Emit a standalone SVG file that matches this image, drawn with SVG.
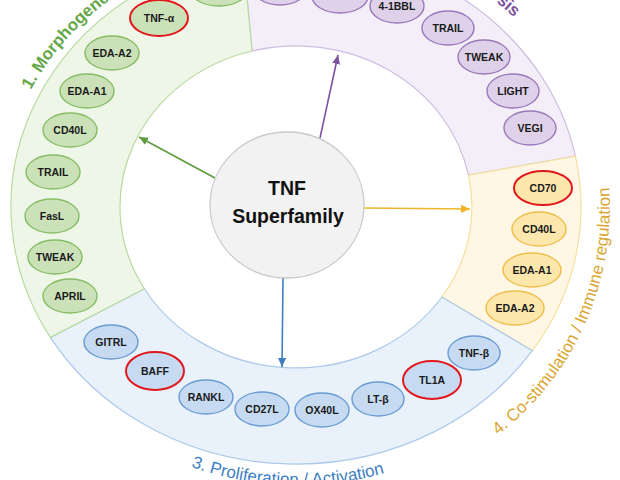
<svg xmlns="http://www.w3.org/2000/svg" width="620" height="480" viewBox="0 0 620 480">
<defs>
<style>
.sg{fill:#eef6e8;stroke:#b8dba2;stroke-width:1.2}
.sp{fill:#f3eef8;stroke:#cfbde1;stroke-width:1.2}
.sy{fill:#fff7e4;stroke:#f6df9f;stroke-width:1.2}
.sb{fill:#e9f2fb;stroke:#acc9ea;stroke-width:1.2}
.ng{fill:#cbe2b9;stroke:#86bd66;stroke-width:1.4}
.np{fill:#ded1e9;stroke:#9b79b9;stroke-width:1.4}
.ny{fill:#fde7ad;stroke:#eebd4a;stroke-width:1.4}
.nb{fill:#c6daf1;stroke:#6b9cd2;stroke-width:1.4}
.red{stroke:#e3161c;stroke-width:2}
.lbl{font-family:'Liberation Sans',Arial,sans-serif;font-weight:bold;font-size:10.5px;text-anchor:middle;fill:#1a1a1a}
.ctr{font-family:'Liberation Sans',Arial,sans-serif;font-weight:bold;font-size:19.5px;text-anchor:middle;fill:#111}
.arc{font-family:'Liberation Sans',Arial,sans-serif;font-size:17px}
.conn{fill:none;stroke-width:1.6}
</style>
<marker id="mg" viewBox="0 0 10 10" refX="10" refY="5" markerWidth="9" markerHeight="9" markerUnits="userSpaceOnUse" orient="auto"><path d="M0,0.5 L10,5 L0,9.5 z" fill="#5e9c3e"/></marker>
<marker id="mp" viewBox="0 0 10 10" refX="10" refY="5" markerWidth="9" markerHeight="9" markerUnits="userSpaceOnUse" orient="auto"><path d="M0,0.5 L10,5 L0,9.5 z" fill="#7d52a0"/></marker>
<marker id="my" viewBox="0 0 10 10" refX="10" refY="5" markerWidth="9" markerHeight="9" markerUnits="userSpaceOnUse" orient="auto"><path d="M0,0.5 L10,5 L0,9.5 z" fill="#f0b429"/></marker>
<marker id="mb" viewBox="0 0 10 10" refX="10" refY="5" markerWidth="9" markerHeight="9" markerUnits="userSpaceOnUse" orient="auto"><path d="M0,0.5 L10,5 L0,9.5 z" fill="#3f7fc1"/></marker>
<path id="tpG" d="M 30.9 89.9 A 295 267 0 0 1 397 -44"/>
<path id="tpP" d="M 34.5 70 A 302 274 0 0 1 513.9 17.4"/>
<path id="tpY" d="M 498 435.2 A 288 288 0 0 0 605.6 158"/>
<path id="tpB" d="M 191 466.7 A 300 278 0 0 0 527.8 385.7"/>
</defs>
<rect width="620" height="480" fill="#ffffff"/>
<g id="sectors">
<path class="sp" d="M 243 -45.6 A 285 257 0 0 1 575.4 156.2 L 468.5 175.2 A 176 161 0 0 0 252 51 Z"/>
<path class="sy" d="M 575.4 156.2 A 285 257 0 0 1 532.3 350.7 L 441.9 297 A 176 161 0 0 0 468.5 175.2 Z"/>
<path class="sb" d="M 532.3 350.7 A 285 257 0 0 1 50.4 337.4 L 144.4 288.7 A 176 161 0 0 0 441.9 297 Z"/>
<path class="sg" d="M 50.4 337.4 A 285 257 0 0 1 243 -45.6 L 252 51 A 176 161 0 0 0 144.4 288.7 Z"/>
</g>
<g id="connectors">
<line class="conn" x1="215" y1="178" x2="139" y2="137" stroke="#5e9c3e" marker-end="url(#mg)"/>
<line class="conn" x1="320" y1="138" x2="338" y2="55" stroke="#7d52a0" marker-end="url(#mp)"/>
<line class="conn" x1="364" y1="208" x2="470" y2="209" stroke="#f0b429" marker-end="url(#my)"/>
<line class="conn" x1="283" y1="278" x2="282" y2="367" stroke="#3f7fc1" marker-end="url(#mb)"/>
</g>
<g id="center">
<ellipse cx="287" cy="205" rx="77" ry="73" fill="#f2f2f2" stroke="#c9c9c9" stroke-width="1.3"/>
<text class="ctr" x="287" y="195">TNF</text>
<text class="ctr" x="288" y="223">Superfamily</text>
</g>
<g id="green-nodes">
<g id="g-top"><ellipse class="ng" cx="219" cy="-11" rx="29" ry="17"/></g>
<g id="g-tnfa"><ellipse class="ng red" cx="159" cy="18" rx="29" ry="18"/><text class="lbl" x="159" y="22">TNF-α</text></g>
<g id="g-edaa2"><ellipse class="ng" cx="112" cy="53" rx="27" ry="17"/><text class="lbl" x="112" y="57">EDA-A2</text></g>
<g id="g-edaa1"><ellipse class="ng" cx="87" cy="91" rx="27" ry="17"/><text class="lbl" x="87" y="95">EDA-A1</text></g>
<g id="g-cd40l"><ellipse class="ng" cx="70" cy="130" rx="27" ry="17"/><text class="lbl" x="70" y="134">CD40L</text></g>
<g id="g-trail"><ellipse class="ng" cx="53" cy="172" rx="27" ry="17"/><text class="lbl" x="53" y="176">TRAIL</text></g>
<g id="g-fasl"><ellipse class="ng" cx="52" cy="216" rx="27" ry="17"/><text class="lbl" x="52" y="220">FasL</text></g>
<g id="g-tweak"><ellipse class="ng" cx="55" cy="257" rx="27" ry="17"/><text class="lbl" x="55" y="261">TWEAK</text></g>
<g id="g-april"><ellipse class="ng" cx="70" cy="296" rx="27" ry="17"/><text class="lbl" x="70" y="300">APRIL</text></g>
</g>
<g id="purple-nodes">
<g id="p-top1"><ellipse class="np" cx="280" cy="-12" rx="27" ry="17"/></g>
<g id="p-top2"><ellipse class="np" cx="340" cy="-4" rx="28" ry="17"/></g>
<g id="p-41bbl"><ellipse class="np" cx="397" cy="6" rx="27" ry="17"/><text class="lbl" x="397" y="10">4-1BBL</text></g>
<g id="p-trail"><ellipse class="np" cx="448" cy="28" rx="26" ry="17"/><text class="lbl" x="448" y="32">TRAIL</text></g>
<g id="p-tweak"><ellipse class="np" cx="484" cy="57" rx="26" ry="17"/><text class="lbl" x="484" y="61">TWEAK</text></g>
<g id="p-light"><ellipse class="np" cx="513" cy="91" rx="26" ry="17"/><text class="lbl" x="513" y="95">LIGHT</text></g>
<g id="p-vegi"><ellipse class="np" cx="530" cy="128" rx="26" ry="17"/><text class="lbl" x="530" y="132">VEGI</text></g>
</g>
<g id="yellow-nodes">
<g id="y-cd70"><ellipse class="ny red" cx="543" cy="188" rx="29" ry="17"/><text class="lbl" x="543" y="192">CD70</text></g>
<g id="y-cd40l"><ellipse class="ny" cx="539" cy="229" rx="27" ry="17"/><text class="lbl" x="539" y="233">CD40L</text></g>
<g id="y-edaa1"><ellipse class="ny" cx="532" cy="270" rx="29" ry="17"/><text class="lbl" x="532" y="274">EDA-A1</text></g>
<g id="y-edaa2"><ellipse class="ny" cx="515" cy="308" rx="29" ry="17"/><text class="lbl" x="515" y="312">EDA-A2</text></g>
</g>
<g id="blue-nodes">
<g id="b-gitrl"><ellipse class="nb" cx="111" cy="342" rx="27" ry="17"/><text class="lbl" x="111" y="346">GITRL</text></g>
<g id="b-baff"><ellipse class="nb red" cx="155" cy="371" rx="29" ry="19"/><text class="lbl" x="155" y="375">BAFF</text></g>
<g id="b-rankl"><ellipse class="nb" cx="206" cy="397" rx="27" ry="17"/><text class="lbl" x="206" y="401">RANKL</text></g>
<g id="b-cd27l"><ellipse class="nb" cx="262" cy="409" rx="27" ry="17"/><text class="lbl" x="262" y="413">CD27L</text></g>
<g id="b-ox40l"><ellipse class="nb" cx="322" cy="410" rx="27" ry="17"/><text class="lbl" x="322" y="414">OX40L</text></g>
<g id="b-ltb"><ellipse class="nb" cx="378" cy="399" rx="26" ry="17"/><text class="lbl" x="378" y="403">LT-β</text></g>
<g id="b-tl1a"><ellipse class="nb red" cx="432" cy="380" rx="29" ry="19"/><text class="lbl" x="432" y="384">TL1A</text></g>
<g id="b-tnfb"><ellipse class="nb" cx="474" cy="353" rx="26" ry="17"/><text class="lbl" x="474" y="357">TNF-β</text></g>
</g>
<g id="group-labels">
<text class="arc" font-weight="bold" font-size="16.5" fill="#67a84a"><textPath href="#tpG">1. Morphogenesis</textPath></text>
<text class="arc" font-weight="bold" font-size="16" fill="#7d52a0"><textPath href="#tpP" startOffset="100%" text-anchor="end">2. Apoptosis</textPath></text>
<text class="arc" font-size="18.2" fill="#daa631"><textPath href="#tpY">4. Co-stimulation / Immune regulation</textPath></text>
<text class="arc" fill="#3d7ec2"><textPath href="#tpB">3. Proliferation / Activation</textPath></text>
</g>
</svg>
